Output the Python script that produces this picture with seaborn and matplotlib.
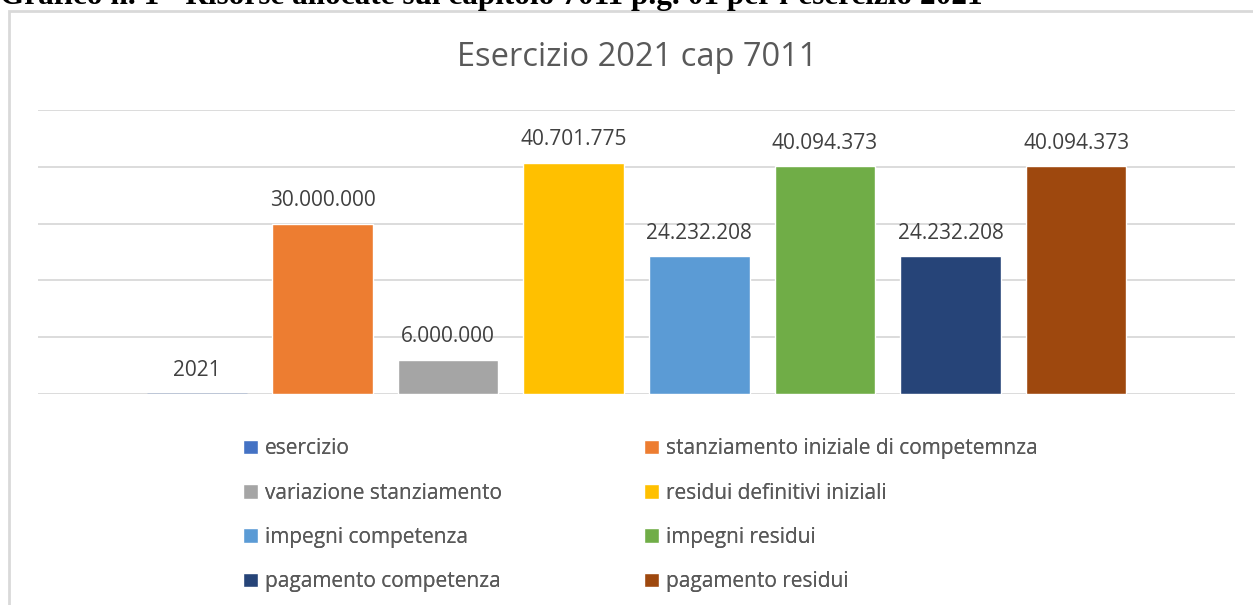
import pandas as pd
import matplotlib.pyplot as plt
import seaborn as sns
from matplotlib.patches import Rectangle, Patch

# data
series = ["esercizio", "stanziamento iniziale di competemnza", "variazione stanziamento",
          "residui definitivi iniziali", "impegni competenza", "impegni residui",
          "pagamento competenza", "pagamento residui"]
values = [2021, 30000000, 6000000, 40701775, 24232208, 40094373, 24232208, 40094373]
labels = ["2021", "30.000.000", "6.000.000", "40.701.775", "24.232.208", "40.094.373",
          "24.232.208", "40.094.373"]
colors = ["#4472C4", "#ED7D31", "#A5A5A5", "#FFC000", "#5B9BD5", "#70AD47", "#264478", "#9E480E"]

df = pd.DataFrame({"serie": series, "valore": values})

sns.set_style("white")
plt.rcParams["font.family"] = ["Open Sans", "DejaVu Sans"]

W, H = 1253, 605
fig = plt.figure(figsize=(W / 100, H / 100), dpi=100)

# chart frame
fig.patches.append(Rectangle((9 / W, -0.1), 1.2, (H - 11) / H + 0.1, transform=fig.transFigure,
                             fill=False, edgecolor="#D9D9D9", linewidth=2))

ax = fig.add_axes([38 / W, (H - 394) / H, (1235 - 38) / W, (394 - 110) / H])
sns.barplot(data=df, x="serie", y="valore", hue="serie", palette=colors,
            width=0.8, saturation=1, legend=False, ax=ax)
# the tiny "esercizio" bar shows only as a thin line
ax.patches[0].set_edgecolor(colors[0])
ax.patches[0].set_linewidth(1)

ax.set_ylim(0, 50000000)
ax.set_xlim(-1.265, 8.265)
ax.set_yticks(range(0, 50000001, 10000000))
ax.yaxis.grid(True, color="#D9D9D9", linewidth=1.3)
ax.set_axisbelow(True)
for s in ax.spines.values():
    s.set_visible(False)
ax.tick_params(left=False, bottom=False, labelleft=False, labelbottom=False)
ax.set_xlabel("")
ax.set_ylabel("")

for i, (v, lab) in enumerate(zip(values, labels)):
    ax.annotate(lab, (i, v), xytext=(0, 9), textcoords="offset points",
                ha="center", va="bottom", fontsize=15, color="#404040")

fig.text(637 / W, 1 - 57 / H, "Esercizio 2021 cap 7011", ha="center", va="center",
         fontsize=23.5, color="#595959")

fig.text(0, 1 - 4 / H, "Grafico n. 1 - Risorse allocate sul capitolo 7011 p.g. 01 per l\u2019esercizio 2021",
         ha="left", va="baseline", fontsize=22.5, fontweight="bold", family="Liberation Serif", color="black")

handles = [Patch(facecolor=c, label=s) for s, c in zip(series, colors)]
for col, x0 in ((0, 235), (1, 636)):
    leg = fig.legend(handles=handles[col::2], loc="upper left", bbox_to_anchor=(x0 / W, 1 - 430 / H),
                     frameon=False, fontsize=15, labelcolor="#595959", handlelength=0.72,
                     handleheight=0.72, handletextpad=0.33, labelspacing=1.12, borderaxespad=0)
    fig.add_artist(leg)

fig.savefig("out.png", dpi=100)
